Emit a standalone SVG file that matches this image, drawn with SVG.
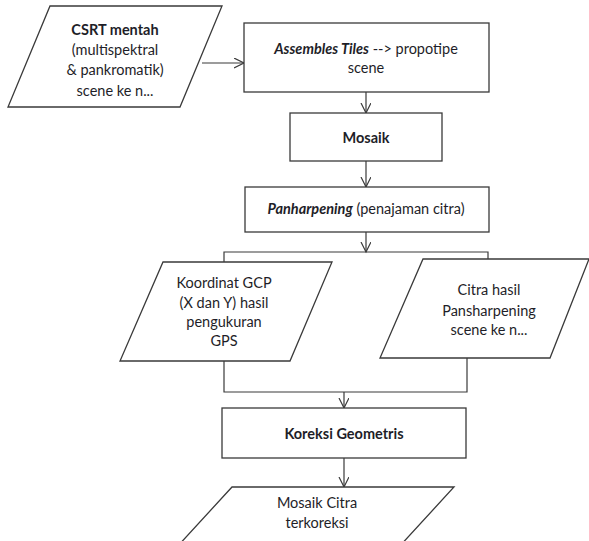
<svg xmlns="http://www.w3.org/2000/svg" width="589" height="541" viewBox="0 0 589 541">
<style>
.s{fill:#fff;stroke:#3a3a3a;stroke-width:1.3}
.c{fill:none;stroke:#3a3a3a;stroke-width:1.2}
text{font-family:Lato,"Liberation Sans",sans-serif;font-size:14.5px;fill:#1e1e28;text-anchor:middle}
.b{font-weight:bold}
.i{font-style:italic;font-weight:bold}
</style>
<defs>
<marker id="a" markerWidth="12" markerHeight="12" refX="10" refY="5" orient="auto" markerUnits="userSpaceOnUse">
<polyline points="0,0 10,5 0,10" fill="none" stroke="#3a3a3a" stroke-width="1.2"/>
</marker>
</defs>
<rect width="589" height="541" fill="#fff"/>
<g id="connectors">
<line class="c" x1="202" y1="63" x2="244" y2="63" marker-end="url(#a)"/>
<line class="c" x1="366" y1="92" x2="366" y2="113" marker-end="url(#a)"/>
<line class="c" x1="366" y1="161" x2="366" y2="187" marker-end="url(#a)"/>
<line class="c" x1="366" y1="232" x2="366" y2="252" marker-end="url(#a)"/>
<polyline class="c" points="224,262 224,252 488,252 488,259"/>
<polyline class="c" points="224,361 224,392 467,392 467,358"/>
<line class="c" x1="344" y1="392" x2="344" y2="408" marker-end="url(#a)"/>
<line class="c" x1="344" y1="458" x2="344" y2="487" marker-end="url(#a)"/>
</g>
<g id="n1">
<polygon class="s" points="50,6 222,6 180,107 8,107"/>
<text x="115" y="35" class="b">CSRT mentah</text>
<text x="115" y="55">(multispektral</text>
<text x="115" y="75">&amp; pankromatik)</text>
<text x="115" y="96">scene ke n...</text>
</g>
<g id="n2">
<rect class="s" x="244" y="23" width="245" height="69"/>
<text x="366" y="54"><tspan class="i">Assembles Tiles</tspan> --&gt; propotipe</text>
<text x="366" y="73">scene</text>
</g>
<g id="n3">
<rect class="s" x="290" y="113" width="152" height="48"/>
<text x="366" y="143" class="b">Mosaik</text>
</g>
<g id="n4">
<rect class="s" x="245" y="187" width="244" height="45"/>
<text x="366" y="214"><tspan class="i">Panharpening</tspan> (penajaman citra)</text>
</g>
<g id="n5">
<polygon class="s" points="163,262 332,262 290,361 120,361"/>
<text x="224" y="288">Koordinat GCP</text>
<text x="224" y="308">(X dan Y) hasil</text>
<text x="224" y="327">pengukuran</text>
<text x="224" y="346">GPS</text>
</g>
<g id="n6">
<polygon class="s" points="423,259 589,259 550,358 380,358"/>
<text x="489" y="295">Citra hasil</text>
<text x="489" y="316">Pansharpening</text>
<text x="489" y="335">scene ke n...</text>
</g>
<g id="n7">
<rect class="s" x="222" y="408" width="244" height="50"/>
<text x="344" y="439" class="b">Koreksi Geometris</text>
</g>
<g id="n8">
<polygon class="s" points="232,487 454,487 398,548 176,548"/>
<text x="317" y="508">Mosaik Citra</text>
<text x="317" y="528">terkoreksi</text>
</g>
</svg>
